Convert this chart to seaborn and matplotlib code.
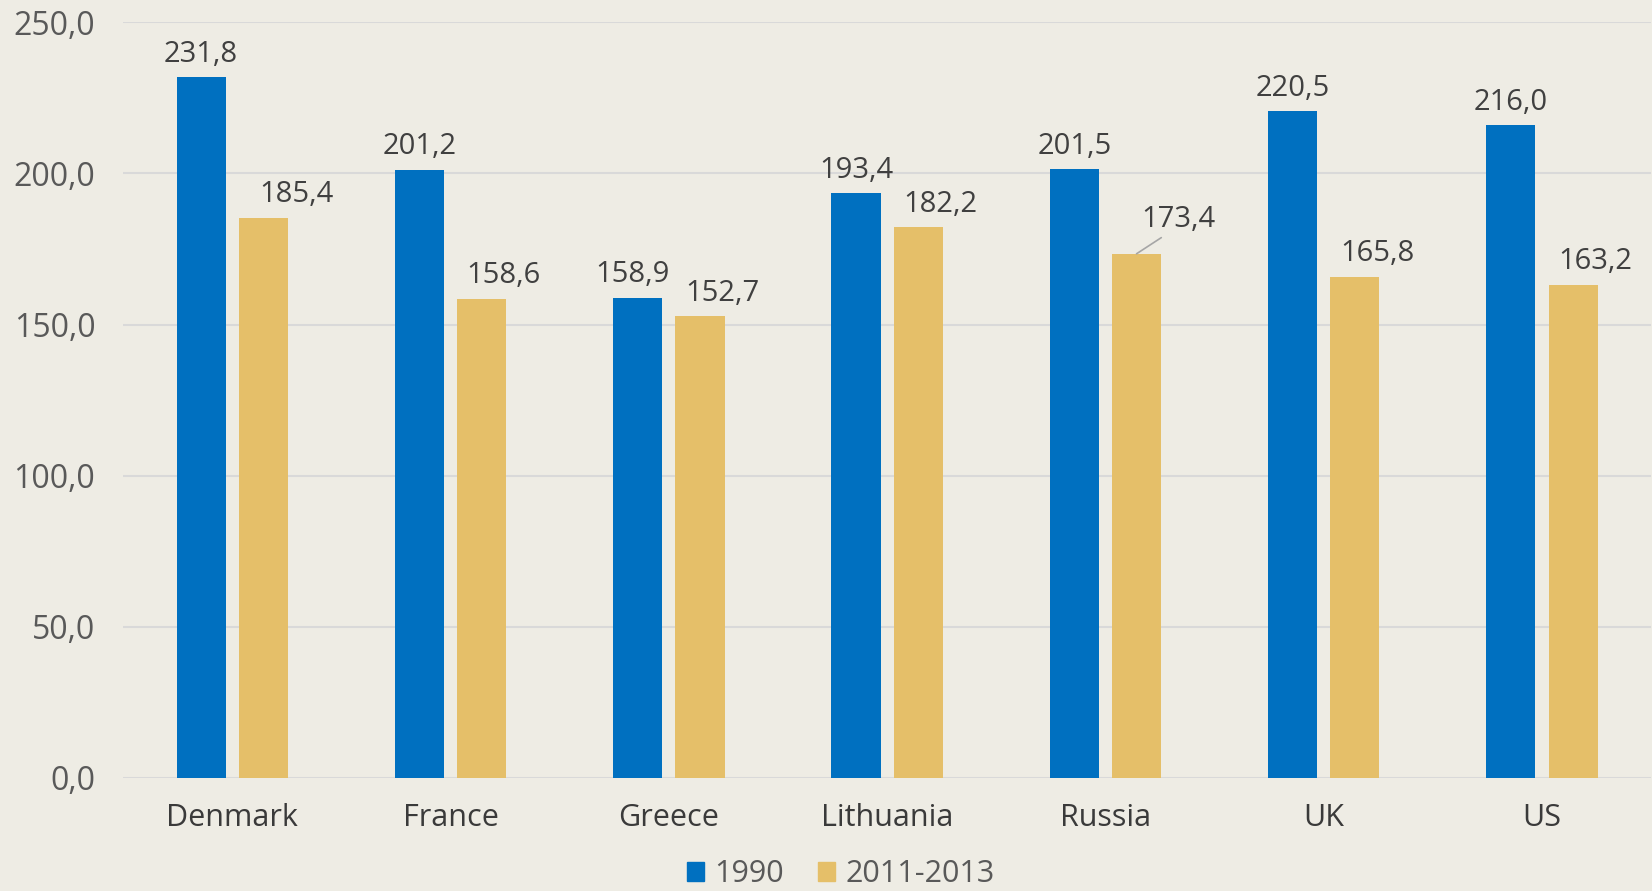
import pandas as pd
import matplotlib.pyplot as plt
import seaborn as sns

# Data
countries = ['Denmark', 'France', 'Greece', 'Lithuania', 'Russia', 'UK', 'US']
values_1990 = [231.8, 201.2, 158.9, 193.4, 201.5, 220.5, 216.0]
values_2011 = [185.4, 158.6, 152.7, 182.2, 173.4, 165.8, 163.2]
series = ['1990', '2011-2013']
yticks = [0, 50, 100, 150, 200, 250]

df = pd.DataFrame({
    'Country': countries * 2,
    'Value': values_1990 + values_2011,
    'Period': [series[0]] * len(countries) + [series[1]] * len(countries),
})

bg = '#EEECE4'
blue = '#0070C0'
gold = '#E5BF69'

sns.set_theme(style='white')
plt.rcParams['font.family'] = ['Open Sans', 'DejaVu Sans']

fig = plt.figure(figsize=(16.52, 8.91), dpi=100, facecolor=bg)
ax = fig.add_axes([0.0745, 0.127, 0.925, 0.848])
ax.set_facecolor(bg)

sns.barplot(data=df, x='Country', y='Value', hue='Period', palette=[blue, gold],
            width=0.57, gap=0.21, ax=ax, legend=False, saturation=1, linewidth=0)

ax.set_ylim(0, 250)
ax.set_yticks(yticks)
ax.set_yticklabels([f'{v:.1f}'.replace('.', ',') for v in yticks])
ax.grid(axis='y', color='#D9D9D9', linewidth=1.5)
ax.set_axisbelow(True)
for s in ax.spines.values():
    s.set_visible(False)
ax.tick_params(axis='y', length=0, pad=20, labelsize=23, labelcolor='#595959')
ax.tick_params(axis='x', length=0, pad=18, labelsize=22, labelcolor='#3A3A3A')
ax.set_xlabel('')
ax.set_ylabel('')

# Value labels
for ci, cont in enumerate(ax.containers):
    for i, bar in enumerate(cont):
        h = bar.get_height()
        x = bar.get_x() + bar.get_width() / 2
        txt = f'{h:.1f}'.replace('.', ',')
        dx = 0 if ci == 0 else 16
        dy = 6
        if ci == 1 and i == 0:
            dx = 24
        if ci == 0 and i == 2:
            dx = -4
        if ci == 1 and i == 4:
            ax.annotate(txt, xy=(x, h), xytext=(30, 14), textcoords='offset points',
                        ha='center', va='bottom', fontsize=21, color='#404040',
                        arrowprops=dict(arrowstyle='-', color='#A6A6A6', lw=1.2,
                                        shrinkA=0, shrinkB=0,
                                        relpos=(0.4, 0.1)))
            continue
        ax.annotate(txt, xy=(x, h), xytext=(dx, dy), textcoords='offset points',
                    ha='center', va='bottom', fontsize=21, color='#404040')

# Legend
handles = [plt.Rectangle((0, 0), 1, 1, color=blue), plt.Rectangle((0, 0), 1, 1, color=gold)]
fig.legend(handles, series, loc='lower center', bbox_to_anchor=(0.509, 0.0), ncol=2,
           frameon=False, fontsize=22, handlelength=0.55, handleheight=0.55,
           handletextpad=0.35, columnspacing=1.1, labelcolor='#595959',
           borderaxespad=0, borderpad=0.05)

fig.savefig('out.png', dpi=100, facecolor=bg)
